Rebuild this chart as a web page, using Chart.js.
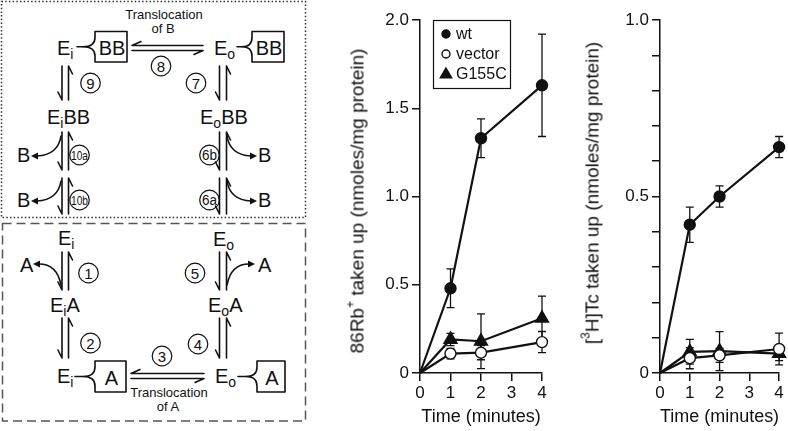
<!DOCTYPE html>
<html><head><meta charset="utf-8">
<script src="https://cdn.jsdelivr.net/npm/chart.js@4.4.1/dist/chart.umd.min.js"></script>
<style>
html,body{margin:0;padding:0;background:#fff;}
#wrap{position:relative;width:788px;height:431px;overflow:hidden;font-family:'Liberation Sans',Arial,sans-serif;color:#111;}
#c1{position:absolute;left:340px;top:0;}
#c2{position:absolute;left:580px;top:0;}
.ytitle{position:absolute;white-space:nowrap;font-size:19px;transform:translate(-50%,-50%) rotate(-90deg);line-height:1;}
.ytitle sup{font-size:12px;vertical-align:top;position:relative;top:-3px;}
#diagram{position:absolute;left:0;top:0;}
</style></head>
<body>
<div id="wrap">
<svg id="diagram" width="320" height="431" xmlns="http://www.w3.org/2000/svg"></svg>
<canvas id="c1" width="240" height="431"></canvas>
<canvas id="c2" width="208" height="431"></canvas>
<div class="ytitle" style="left:357px;top:201px;">86Rb<sup>+</sup> taken up (nmoles/mg protein)</div>
<div class="ytitle" style="left:592px;top:193px;">[<sup>3</sup>H]Tc taken up (nmoles/mg protein)</div>
</div>
<script>
// ---------------- DATA ----------------
const times = [0, 1, 2, 4];
const seriesNames = ['wt', 'vector', 'G155C'];
const xTitle = 'Time (minutes)';

// 86Rb+ uptake (left chart)
const rbWt = [0, 0.48, 1.33, 1.63];
const rbWtErr = [0, 0.11, 0.11, 0.29];
const rbVector = [0, 0.11, 0.115, 0.175];
const rbVectorErr = [0, 0.03, 0.04, 0.06];
const rbG155C = [0, 0.19, 0.18, 0.31];
const rbG155CErr = [0, 0.035, 0.155, 0.125];

// [3H]Tc uptake (right chart)
const tcWt = [0, 0.42, 0.50, 0.64];
const tcWtErr = [0, 0.05, 0.03, 0.03];
const tcVector = [0, 0.042, 0.05, 0.068];
const tcVectorErr = [0, 0.03, 0.02, 0.045];
const tcG155C = [0, 0.06, 0.062, 0.055];
const tcG155CErr = [0, 0.035, 0.055, 0.02];

const rbTickLabels = {0: '0', 0.5: '0.5', 1: '1.0', 1.5: '1.5', 2: '2.0'};
const tcTickLabels = {0: '0', 0.5: '0.5', 1: '1.0'};

// ---------------- DIAGRAM (SVG) ----------------
(function () {
  const S = '#111';
  let out = '';
  const line = d => { out += `<path d="${d}" fill="none" stroke="${S}" stroke-width="1.6" stroke-linecap="round" stroke-linejoin="round"/>`; };
  const txt = (x, y, s, size, anchor) => { out += `<text x="${x}" y="${y}" font-size="${size}" text-anchor="${anchor || 'start'}" fill="${S}">${s}</text>`; };
  const esub = (x, y, sub, rest) => { out += `<text x="${x}" y="${y}" font-size="20" fill="${S}">E<tspan font-size="14" dy="4">${sub}</tspan><tspan dy="-4">${rest || ''}</tspan></text>`; };
  const vPair = (xl, xr, y1, y2) => {
    line(`M${xl},${y1} V${y2} M${xl},${y2} L${xl - 4},${y2 - 8}`);
    line(`M${xr},${y2} V${y1} M${xr},${y1} L${xr + 4},${y1 + 8}`);
  };
  const hPair = (x1, x2, yt, yb) => {
    line(`M${x1},${yt} H${x2} M${x1},${yt} L${x1 + 9},${yt - 4}`);
    line(`M${x1},${yb} H${x2} M${x2},${yb} L${x2 - 9},${yb + 4}`);
  };
  const circ = (cx, cy, s) => {
    out += `<circle cx="${cx}" cy="${cy}" r="9.8" fill="none" stroke="${S}" stroke-width="1.2"/>`;
    if (s.length === 3) out += `<text x="${cx}" y="${cy + 4.8}" font-size="13.5" text-anchor="middle" textLength="17" lengthAdjust="spacingAndGlyphs" fill="${S}">${s}</text>`;
    else if (s.length === 2) out += `<text x="${cx}" y="${cy + 5}" font-size="14" text-anchor="middle" textLength="15" lengthAdjust="spacingAndGlyphs" fill="${S}">${s}</text>`;
    else out += `<text x="${cx}" y="${cy + 5.5}" font-size="15" text-anchor="middle" fill="${S}">${s}</text>`;
  };
  const head = (tx, ty, dir) => {
    const d = dir === 'L' ? `M${tx},${ty} L${tx + 7},${ty - 3.5} L${tx + 7},${ty + 3.5} Z` : `M${tx},${ty} L${tx - 7},${ty - 3.5} L${tx - 7},${ty + 3.5} Z`;
    out += `<path d="${d}" fill="${S}"/>`;
  };
  const boxed = (tickX, tipX, xBox, xRight, yTop, yBot, label) => {
    const m = (yTop + yBot) / 2;
    line(`M${tickX},${m} H${tipX}`);
    line(`M${xBox},${yTop} V${yTop + 6} Q${xBox},${m} ${tipX},${m} Q${xBox},${m} ${xBox},${yBot - 6} V${yBot} H${xRight} V${yTop} Z`);
    txt((xBox + xRight) / 2 + 1, yBot - 7.5, label, 20, 'middle');
  };

  // borders
  out += `<rect x="1.5" y="1.5" width="304" height="216" fill="none" stroke="#333" stroke-width="1.5" stroke-dasharray="1.5 2.2"/>`;
  out += `<rect x="2.5" y="223.5" width="303" height="197.5" fill="none" stroke="#555" stroke-width="1.5" stroke-dasharray="9 5"/>`;

  // top (B) cycle
  txt(164, 19, 'Translocation', 13, 'middle');
  txt(163, 33, 'of B', 13, 'middle');
  esub(57, 55, 'i');
  boxed(77, 83, 95, 127, 31.5, 62, 'BB');
  hPair(132, 203, 45.5, 50.5);
  circ(161, 66, '8');
  esub(214, 55, 'o');
  boxed(237, 242, 252, 284, 31.5, 62, 'BB');
  vPair(62, 68.5, 66, 100); circ(90.5, 83, '9');
  vPair(219.5, 226.5, 66, 100); circ(196, 83, '7');
  esub(47, 123.5, 'i', 'BB');
  esub(200, 123.5, 'o', 'BB');
  vPair(62, 68.5, 132, 170); line('M61,136 Q58,155 37,156'); head(31, 156, 'L'); txt(17, 162, 'B', 20); circ(79.5, 155, '10a');
  vPair(219.5, 226.5, 132, 170); line('M227,136 Q230,155 251,156'); head(257, 156, 'R'); txt(258, 162, 'B', 20); circ(209.5, 155, '6b');
  vPair(62, 68.5, 178, 214); line('M61,181 Q58,200 37,201'); head(31, 201, 'L'); txt(17, 207, 'B', 20); circ(79.5, 200, '10b');
  vPair(219.5, 226.5, 178, 214); line('M227,181 Q230,200 251,201'); head(257, 201, 'R'); txt(258, 207, 'B', 20); circ(209.5, 200, '6a');

  // bottom (A) cycle
  esub(58, 245, 'i');
  esub(213, 246, 'o');
  vPair(62, 68.5, 252, 290); line('M61,285 Q57,264 39,264'); head(33, 264, 'L'); txt(20, 272, 'A', 20); circ(88.5, 273, '1');
  vPair(219.5, 226.5, 252, 290); line('M227,285 Q231,264 249,264'); head(255, 264, 'R'); txt(258, 272, 'A', 20); circ(195, 273, '5');
  esub(50, 311.5, 'i', 'A');
  esub(208, 311.5, 'o', 'A');
  vPair(62, 68.5, 318, 358); circ(90.5, 343, '2');
  vPair(219.5, 226.5, 318, 358); circ(198, 344, '4');
  esub(57, 383, 'i');
  boxed(75, 83, 95, 126, 361, 392, 'A');
  hPair(131, 204, 373.5, 378.5);
  circ(162, 356, '3');
  txt(169, 397, 'Translocation', 13, 'middle');
  txt(168, 411, 'of A', 13, 'middle');
  esub(215, 383, 'o');
  boxed(238, 246, 257, 285, 361, 392, 'A');

  document.getElementById('diagram').innerHTML = out;
})();

// ---------------- CHARTS ----------------
Chart.defaults.font.family = "'Liberation Sans', Arial, sans-serif";
Chart.defaults.color = '#111';

function drawMarker(ctx, style, x, y, r) {
  ctx.save();
  ctx.lineWidth = 1.4;
  ctx.strokeStyle = '#111';
  ctx.beginPath();
  if (style === 'triangle') {
    ctx.moveTo(x, y - r);
    ctx.lineTo(x + r * 0.95, y + r * 0.65);
    ctx.lineTo(x - r * 0.95, y + r * 0.65);
    ctx.closePath();
    ctx.fillStyle = '#111';
  } else {
    ctx.arc(x, y, r, 0, Math.PI * 2);
    ctx.fillStyle = style === 'open' ? '#fff' : '#111';
  }
  ctx.fill();
  ctx.stroke();
  ctx.restore();
}

const errorBarPlugin = {
  id: 'errorBars',
  beforeDatasetsDraw(chart) {
    const ctx = chart.ctx, xs = chart.scales.x, ys = chart.scales.y;
    ctx.save();
    ctx.strokeStyle = '#111';
    ctx.lineWidth = 1.3;
    chart.data.datasets.forEach(ds => {
      ds.data.forEach((p, i) => {
        const e = ds.errors[i];
        if (!e) return;
        const x = xs.getPixelForValue(p.x);
        const y1 = ys.getPixelForValue(p.y + e);
        const y2 = ys.getPixelForValue(p.y - e);
        ctx.beginPath();
        ctx.moveTo(x, y1); ctx.lineTo(x, y2);
        ctx.moveTo(x - 4, y1); ctx.lineTo(x + 4, y1);
        ctx.moveTo(x - 4, y2); ctx.lineTo(x + 4, y2);
        ctx.stroke();
      });
    });
    ctx.restore();
  }
};

const boxLegendPlugin = {
  id: 'boxLegend',
  afterDraw(chart, args, opts) {
    if (!opts.show) return;
    const ctx = chart.ctx, a = chart.chartArea;
    const left = a.left + 13, top = a.top, w = 77, h = 68;
    ctx.save();
    ctx.strokeStyle = '#111';
    ctx.lineWidth = 1.2;
    ctx.strokeRect(left + 0.5, top + 0.5, w, h);
    ctx.font = "16px 'Liberation Sans', Arial, sans-serif";
    ctx.fillStyle = '#111';
    ctx.textBaseline = 'middle';
    const styles = ['filled', 'open', 'triangle'];
    chart.data.datasets.forEach((ds, i) => {
      const y = top + 14 + i * 20;
      drawMarker(ctx, styles[i], left + 13, y, styles[i] === 'triangle' ? 6 : 4);
      ctx.fillStyle = '#111';
      ctx.fillText(ds.label, left + 23, y + 1);
    });
    ctx.restore();
  }
};

function makeDatasets(wt, wtE, vec, vecE, g, gE) {
  const base = {
    borderColor: '#111', borderWidth: 2.2, showLine: true, clip: false,
    pointBorderColor: '#111', pointBorderWidth: 1.4
  };
  const pts = arr => times.map((t, i) => ({x: t, y: arr[i]}));
  return [
    Object.assign({}, base, {label: seriesNames[0], data: pts(wt), errors: wtE, pointStyle: 'circle',
      pointBackgroundColor: '#111', pointRadius: c => c.dataIndex === 0 ? 0 : 5.5}),
    Object.assign({}, base, {label: seriesNames[1], data: pts(vec), errors: vecE, pointStyle: 'circle',
      pointBackgroundColor: '#fff', pointRadius: c => c.dataIndex === 0 ? 0 : 5.5}),
    Object.assign({}, base, {label: seriesNames[2], data: pts(g), errors: gE, pointStyle: 'triangle',
      pointBackgroundColor: '#111', pointRadius: c => c.dataIndex === 0 ? 0 : 7.5})
  ];
}

function makeChart(id, datasets, yMax, yStep, labelMap, padRight, showLegend) {
  const find = v => {
    for (const k in labelMap) if (Math.abs(v - Number(k)) < 1e-9) return labelMap[k];
    return '';
  };
  return new Chart(document.getElementById(id), {
    type: 'scatter',
    data: {datasets},
    options: {
      responsive: false, animation: false, events: [],
      layout: {padding: {left: 0, right: padRight, top: 20, bottom: 0}},
      plugins: {legend: {display: false}, tooltip: {enabled: false}, boxLegend: {show: showLegend}},
      scales: {
        x: {
          type: 'linear', min: 0, max: 4,
          ticks: {stepSize: 1, font: {size: 17}, padding: 2, color: '#111', callback: v => String(v)},
          grid: {drawOnChartArea: false, drawTicks: true, tickLength: 8, color: '#111', lineWidth: 1.5},
          border: {color: '#111', width: 1.5},
          title: {display: true, text: xTitle, font: {size: 18}, color: '#111', padding: {top: 0, bottom: 3}},
          afterFit: s => { s.height = 58; }
        },
        y: {
          min: 0, max: yMax,
          ticks: {stepSize: yStep, font: {size: 17}, padding: 3, color: '#111', autoSkip: false, callback: v => find(v)},
          grid: {drawOnChartArea: false, drawTicks: true, tickLength: 8, color: '#111', lineWidth: 1.5},
          border: {color: '#111', width: 1.5},
          afterFit: s => { s.width = 80; }
        }
      }
    },
    plugins: [errorBarPlugin, boxLegendPlugin]
  });
}

makeChart('c1', makeDatasets(rbWt, rbWtErr, rbVector, rbVectorErr, rbG155C, rbG155CErr), 2, 0.5, rbTickLabels, 38, true);
makeChart('c2', makeDatasets(tcWt, tcWtErr, tcVector, tcVectorErr, tcG155C, tcG155CErr), 1, 0.1, tcTickLabels, 6, false);
</script>
</body></html>
